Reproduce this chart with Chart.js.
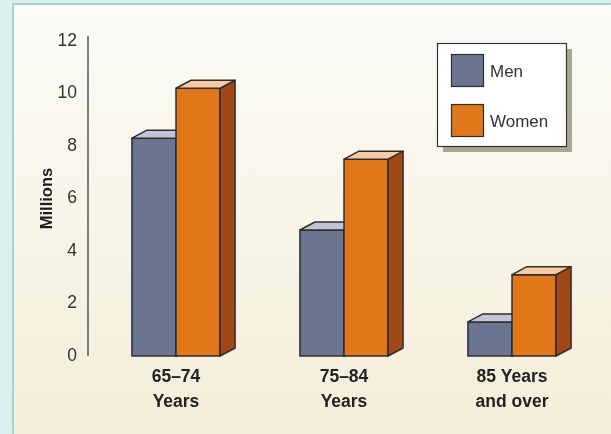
<!DOCTYPE html>
<html>
<head>
<meta charset="utf-8">
<script src="https://cdn.jsdelivr.net/npm/chart.js@4/dist/chart.umd.min.js"></script>
<style>
  html, body { margin: 0; padding: 0; }
  body { width: 611px; height: 434px; background: #dcefef; position: relative; overflow: hidden; }
  #panel {
    position: absolute; left: 12px; top: 3px; width: 640px; height: 460px;
    border: 2px solid #a3d2d2;
    background: linear-gradient(to bottom, #fbfbf7 0%, #f8f5e8 45%, #f3ecd7 100%);
  }
  #chart { position: absolute; left: 0; top: 0; }
</style>
</head>
<body>
<div id="panel"></div>
<canvas id="chart" width="611" height="434"></canvas>
<script>
// Age groups, two lines per label
const categories = [["65–74", "Years"], ["75–84", "Years"], ["85 Years", "and over"]];
// Population in millions
const men   = [8.3, 4.8, 1.3];
const women = [10.2, 7.5, 3.1];
const yTicks = [0, 2, 4, 6, 8, 10, 12];

const seriesNames = ["Men", "Women"];
const palette = {
  Men:   { front: "#6b7591", top: "#c3c5d5", side: "#4c5570" },
  Women: { front: "#e0771b", top: "#f8caa3", side: "#a04818" }
};
const edge = "#2e2e2e";
const depthX = 15, depthY = 8;

// Each bar as a box: front, side and top faces, painted dataset by dataset
// so the second series sits in front of the first one's top face.
const bar3d = {
  id: "bar3d",
  afterDatasetsDraw(chart) {
    const ctx = chart.ctx;
    ctx.save();
    ctx.lineWidth = 1.5;
    ctx.strokeStyle = edge;
    ctx.lineJoin = "round";
    chart.data.datasets.forEach((ds, i) => {
      const col = palette[ds.label];
      chart.getDatasetMeta(i).data.forEach(bar => {
        const p = bar.getProps(["x", "y", "base", "width"], true);
        const l = p.x - p.width / 2, r = p.x + p.width / 2, t = p.y, b = p.base;
        // front
        ctx.fillStyle = col.front;
        ctx.fillRect(l, t, r - l, b - t);
        ctx.strokeRect(l, t, r - l, b - t);
        // side
        ctx.beginPath();
        ctx.moveTo(r, t); ctx.lineTo(r + depthX, t - depthY);
        ctx.lineTo(r + depthX, b - depthY); ctx.lineTo(r, b); ctx.closePath();
        ctx.fillStyle = col.side; ctx.fill(); ctx.stroke();
        // top
        ctx.beginPath();
        ctx.moveTo(l, t); ctx.lineTo(l + depthX, t - depthY);
        ctx.lineTo(r + depthX, t - depthY); ctx.lineTo(r, t); ctx.closePath();
        ctx.fillStyle = col.top; ctx.fill(); ctx.stroke();
      });
    });
    ctx.restore();
  }
};

// Vertical axis line and the boxed legend with its drop shadow
const decorations = {
  id: "decorations",
  beforeDatasetsDraw(chart) {
    const ctx = chart.ctx, y = chart.scales.y;
    const x = chart.chartArea.left - 4;
    ctx.save();
    ctx.strokeStyle = "#555";
    ctx.lineWidth = 1.5;
    ctx.beginPath();
    ctx.moveTo(x, y.getPixelForValue(12) - 5);
    ctx.lineTo(x, y.getPixelForValue(0));
    ctx.stroke();
    ctx.restore();
  },
  afterDraw(chart) {
    const ctx = chart.ctx;
    const bx = 437, by = 43, bw = 129, bh = 103;
    ctx.save();
    ctx.fillStyle = "#a9a88f";
    ctx.fillRect(bx + 6, by + 6, bw, bh);
    ctx.fillStyle = "#ffffff";
    ctx.fillRect(bx, by, bw, bh);
    ctx.strokeStyle = "#333";
    ctx.lineWidth = 1.2;
    ctx.strokeRect(bx + 0.5, by + 0.5, bw, bh);
    seriesNames.forEach((name, i) => {
      const sy = by + 11 + i * 50;
      ctx.fillStyle = palette[name].front;
      ctx.fillRect(bx + 14, sy, 33, 32);
      ctx.strokeStyle = edge;
      ctx.strokeRect(bx + 14.5, sy + 0.5, 32, 32);
      ctx.fillStyle = "#333";
      ctx.font = "17px 'Liberation Sans', Arial, sans-serif";
      ctx.textBaseline = "middle";
      ctx.fillText(name, bx + 53, sy + 18);
    });
    ctx.restore();
  }
};

new Chart(document.getElementById("chart"), {
  type: "bar",
  data: {
    labels: categories,
    datasets: [
      { label: seriesNames[0], data: men,
        backgroundColor: palette.Men.front, borderColor: edge, borderWidth: 1.5 },
      { label: seriesNames[1], data: women,
        backgroundColor: palette.Women.front, borderColor: edge, borderWidth: 1.5 }
    ]
  },
  options: {
    responsive: false,
    animation: false,
    layout: { padding: { top: 41, right: 15, left: 0, bottom: 0 } },
    datasets: { bar: { categoryPercentage: 0.5246, barPercentage: 1.0 } },
    plugins: { legend: { display: false }, tooltip: { enabled: false } },
    scales: {
      x: {
        grid: { display: false, drawTicks: false },
        border: { display: false },
        ticks: {
          color: "#222", padding: 8, maxRotation: 0, autoSkip: false,
          font: { family: "'Liberation Sans', Arial, sans-serif", size: 17.5, weight: "bold", lineHeight: 1.46 }
        },
        afterFit(scale) { scale.height = 78; }
      },
      y: {
        min: 0, max: 12,
        afterBuildTicks(scale) { scale.ticks = yTicks.map(v => ({ value: v })); },
        grid: { display: false, drawTicks: false },
        border: { display: false },
        ticks: {
          color: "#333", padding: 15,
          font: { family: "'Liberation Sans', Arial, sans-serif", size: 17.5 }
        },
        title: {
          display: true, text: "Millions", color: "#1e1e1e",
          padding: { top: 38, bottom: 0 },
          font: { family: "'Liberation Sans', Arial, sans-serif", size: 16.5, weight: "bold" }
        },
        afterFit(scale) { scale.width = 92; }
      }
    }
  },
  plugins: [bar3d, decorations]
});
</script>
</body>
</html>
